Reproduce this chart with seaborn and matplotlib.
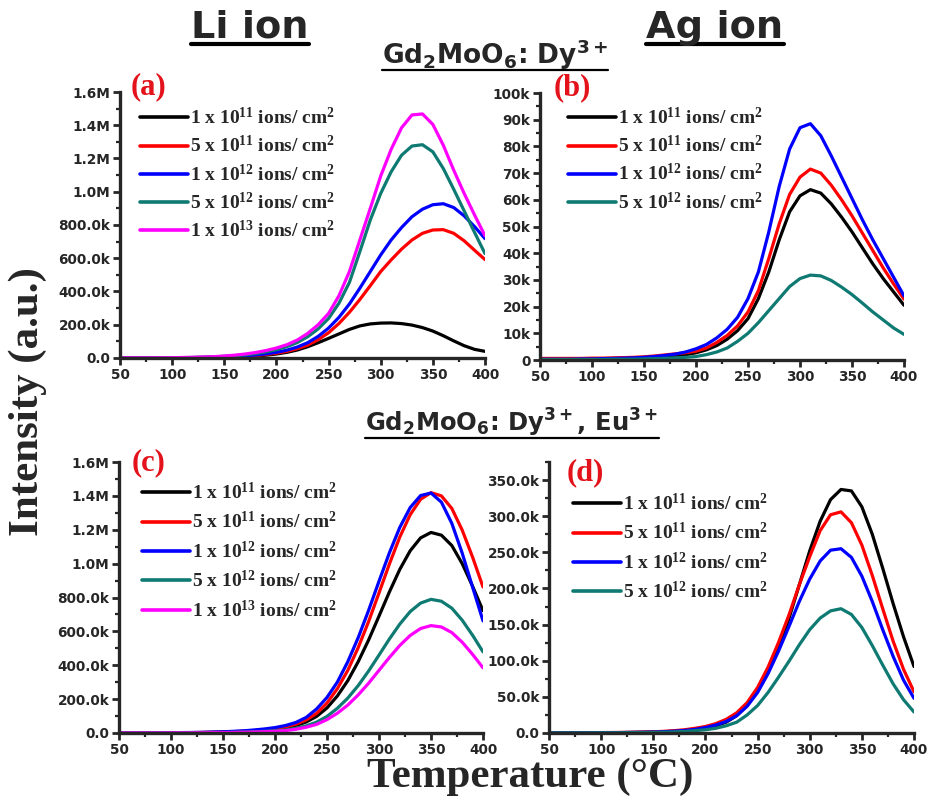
import matplotlib
matplotlib.use("Agg")
import matplotlib.pyplot as plt
import numpy as np
import pandas as pd
import seaborn as sns
from matplotlib.lines import Line2D
from matplotlib.ticker import MultipleLocator
from matplotlib.font_manager import FontProperties

# ---------------------------------------------------------------- data
# Temperature grid (°C) shared by all glow curves
TEMP = [50, 60, 70, 80, 90, 100, 110, 120, 130, 140, 150, 160, 170, 180, 190,
        200, 210, 220, 230, 240, 250, 260, 270, 280, 290, 300, 310, 320, 330,
        340, 350, 360, 370, 380, 390, 400]

# Fluence labels
DOSE5 = ["1 x 10$^{11}$ ions/ cm$^{2}$", "5 x 10$^{11}$ ions/ cm$^{2}$",
         "1 x 10$^{12}$ ions/ cm$^{2}$", "5 x 10$^{12}$ ions/ cm$^{2}$",
         "1 x 10$^{13}$ ions/ cm$^{2}$"]
DOSE4 = DOSE5[:4]

# (a) Gd2MoO6:Dy3+, Li ion  -- intensity in thousands
a_1e11 = [1, 1, 1, 1, 1, 1, 1.5, 2, 2.5, 3.5, 5, 7, 9, 12, 17, 24, 34, 48, 68, 92,
          118, 145, 172, 193, 205, 210, 211, 207, 198, 183, 162, 134, 103, 74, 52, 40]
a_5e11 = [1, 1, 1, 1, 1, 1.5, 2, 2.5, 3, 4, 6, 8, 11, 15, 21, 29, 40, 56, 78, 110,
          152, 208, 275, 352, 435, 520, 590, 655, 710, 750, 770, 772, 750, 705, 648, 592]
a_1e12 = [1, 1, 1, 1, 1, 1.5, 2, 2.5, 3.5, 5, 7, 9, 13, 18, 25, 34, 47, 66, 92, 130,
          180, 245, 325, 420, 520, 620, 710, 785, 850, 895, 922, 928, 905, 855, 790, 718]
a_5e12 = [1, 1, 1, 1, 1.5, 2, 2.5, 3.5, 5, 7, 10, 14, 19, 27, 37, 50, 68, 93, 128, 175,
          238, 330, 455, 640, 830, 990, 1120, 1220, 1275, 1283, 1240, 1140, 1015, 885, 755, 628]
a_1e13 = [1, 1, 1, 1, 1.5, 2, 3, 4, 6, 8, 12, 17, 24, 33, 45, 60, 80, 108, 148, 200,
          268, 375, 520, 710, 900, 1095, 1255, 1385, 1462, 1468, 1405, 1280, 1130, 990, 860, 735]

# (b) Gd2MoO6:Dy3+, Ag ion -- intensity in thousands
b_1e11 = [0.3, 0.3, 0.3, 0.3, 0.4, 0.4, 0.4, 0.5, 0.5, 0.6, 0.7, 0.9, 1.2, 1.5, 2.0,
          2.7, 3.8, 5.4, 7.8, 11.0, 15.5, 23, 33, 45, 55.5, 61.5, 63.8, 62.5, 58.5,
          53.5, 48, 42, 36, 30.5, 25.5, 20.5]
b_5e11 = [0.6, 0.6, 0.6, 0.6, 0.6, 0.7, 0.7, 0.8, 0.9, 1.0, 1.2, 1.5, 1.9, 2.3, 2.7,
          3.3, 4.5, 6.6, 9.2, 12.8, 18, 26, 38, 51, 62, 68.5, 71.5, 70, 65.5,
          60, 54, 47.5, 41, 34.5, 28.5, 22.8]
b_1e12 = [0.3, 0.3, 0.3, 0.3, 0.4, 0.4, 0.5, 0.6, 0.7, 0.8, 1.0, 1.3, 1.7, 2.2, 3.0,
          4.2, 5.8, 8.3, 11.5, 16, 23, 33, 48, 65, 79, 87, 88.5, 84, 76.5,
          68.5, 60.5, 52.5, 45, 38, 31, 24]
b_5e12 = [0.2, 0.2, 0.2, 0.2, 0.2, 0.2, 0.2, 0.3, 0.3, 0.3, 0.4, 0.5, 0.6, 0.8, 1.0,
          1.3, 2.0, 3.0, 4.5, 7.0, 10, 14, 18.5, 23, 27.5, 30.5, 31.8, 31.5, 29.8,
          27.3, 24.5, 21.3, 18, 15, 12, 9.6]

# (c) Gd2MoO6:Dy3+,Eu3+, Li ion -- intensity in thousands
c_1e11 = [1, 1, 1, 1, 1, 1, 1.5, 2, 2.5, 3.5, 5, 7, 9, 12, 16, 22, 30, 44, 65, 98,
          148, 219, 309, 421, 549, 690, 833, 966, 1076, 1152, 1184, 1168, 1107, 1000, 866, 722]
c_5e11 = [1, 1, 1, 1, 1, 1.5, 2, 2.5, 3.5, 4.5, 6, 8, 11, 15, 19, 26, 36, 52, 77, 116,
          177, 262, 370, 504, 658, 827, 998, 1157, 1289, 1380, 1419, 1400, 1326, 1198, 1038, 862]
c_1e12 = [1, 1, 1, 1, 1.5, 2, 2.5, 3, 4, 5.5, 7, 10, 13, 18, 24, 32, 44, 62, 92, 142,
          210, 301, 421, 563, 724, 896, 1064, 1214, 1331, 1402, 1417, 1363, 1238, 1062, 861, 662]
c_5e12 = [0.5, 0.5, 0.5, 0.5, 0.5, 1, 1, 1.5, 2, 2.5, 3, 4, 5.5, 7.5, 10, 13, 18, 28, 42, 64,
          98, 146, 206, 280, 366, 460, 555, 643, 717, 767, 789, 778, 737, 666, 577, 479]
c_1e13 = [0.5, 0.5, 0.5, 0.5, 0.5, 1, 1, 1, 1.5, 2, 2.5, 3.5, 4.5, 6, 8, 10, 14, 22, 34, 51,
          79, 117, 165, 225, 294, 370, 446, 517, 576, 617, 634, 626, 593, 536, 464, 385]

# (d) Gd2MoO6:Dy3+,Eu3+, Ag ion -- intensity in thousands
d_1e11 = [0.3, 0.3, 0.3, 0.3, 0.3, 0.4, 0.5, 0.6, 0.8, 1.0, 1.3, 1.8, 2.5, 3.5, 5, 7, 10,
          15, 24, 38, 60, 86, 118, 158, 205, 252, 293, 323, 337, 335, 313, 275, 228, 179, 133, 92]
d_5e11 = [0.5, 0.5, 0.5, 0.5, 0.5, 0.6, 0.7, 0.8, 1.0, 1.3, 1.7, 2.3, 3.2, 4.5, 6.5, 9, 13,
          19, 28, 42, 63, 91, 125, 163, 205, 244, 280, 302, 306, 291, 260, 218, 172, 127, 88, 57]
d_1e12 = [0.3, 0.3, 0.3, 0.3, 0.3, 0.4, 0.5, 0.6, 0.8, 1.0, 1.3, 1.8, 2.5, 3.5, 5, 7.5, 11,
          16, 24, 37, 56, 82, 113, 147, 182, 213, 238, 253, 255, 243, 217, 182, 143, 106, 73, 48]
d_5e12 = [0.2, 0.2, 0.2, 0.2, 0.2, 0.3, 0.3, 0.4, 0.5, 0.6, 0.8, 1.1, 1.5, 2.2, 3.2, 4.5, 6.5,
          10, 15, 25, 38, 56, 77, 99, 122, 143, 159, 169, 172, 164, 146, 121, 94, 68, 46, 29]

# Tick values and their printed labels
X_TICKS = [50, 100, 150, 200, 250, 300, 350, 400]
AC_YTICKS = [0, 200, 400, 600, 800, 1000, 1200, 1400, 1600]
AC_YLABELS = ["0.0", "200.0k", "400.0k", "600.0k", "800.0k", "1.0M", "1.2M", "1.4M", "1.6M"]
B_YTICKS = [0, 10, 20, 30, 40, 50, 60, 70, 80, 90, 100]
B_YLABELS = ["0", "10k", "20k", "30k", "40k", "50k", "60k", "70k", "80k", "90k", "100k"]
D_YTICKS = [0, 50, 100, 150, 200, 250, 300, 350]
D_YLABELS = ["0.0", "50.0k", "100.0k", "150.0k", "200.0k", "250.0k", "300.0k", "350.0k"]

# ---------------------------------------------------------------- style
COLORS5 = ["#000000", "#FF0000", "#0000FF", "#0E7A72", "#FF00FF"]
COLORS4 = COLORS5[:4]
PANEL_RED = "#E3121B"

sns.set_style("ticks")
plt.rcParams["font.family"] = ["DejaVu Sans"]
plt.rcParams["mathtext.default"] = "regular"
plt.rcParams["axes.linewidth"] = 2.4

W, H = 931, 797
fig = plt.figure(figsize=(W / 100, H / 100), dpi=100)

SERIF_B = dict(family="Liberation Serif", weight="bold")
TICK_FONT = FontProperties(family="DejaVu Sans", weight="bold", size=9.8)
LEG_FONT = FontProperties(family="Liberation Serif", weight="bold", size=14)


def px_rect(x0, y0, x1, y1):
    """Axes rectangle from pixel corners (top-left origin)."""
    return [x0 / W, 1 - y1 / H, (x1 - x0) / W, (y1 - y0) / H]


def draw_panel(rect, series, labels, colors, ylim, yticks, ylabels, yminor,
               leg_xy, leg_gap, tag, tag_xy):
    ax = fig.add_axes(rect)
    frame = pd.DataFrame({"Temperature": TEMP})
    for lab, vals in zip(labels, series):
        frame[lab] = vals
    long = frame.melt(id_vars="Temperature", var_name="Dose", value_name="Intensity")
    sns.lineplot(data=long, x="Temperature", y="Intensity", hue="Dose",
                 hue_order=labels, palette=colors, linewidth=2.3,
                 estimator=None, legend=False, ax=ax)
    ax.set_xlim(50, 400)
    ax.set_ylim(*ylim)
    ax.set_xticks(X_TICKS, [str(t) for t in X_TICKS])
    ax.set_yticks(yticks, ylabels)
    ax.xaxis.set_minor_locator(MultipleLocator(25))
    ax.yaxis.set_minor_locator(MultipleLocator(yminor))
    for lab in ax.get_xticklabels() + ax.get_yticklabels():
        lab.set_fontproperties(TICK_FONT)
    ax.tick_params(which="major", direction="out", length=5, width=2, pad=2)
    ax.tick_params(which="minor", direction="out", length=3, width=1.6)
    ax.set_xlabel("")
    ax.set_ylabel("")
    sns.despine(ax=ax)
    handles = [Line2D([], [], color=c, lw=2.6) for c in colors]
    ax.legend(handles, labels, loc="upper left",
              bbox_to_anchor=(leg_xy[0] / W, 1 - leg_xy[1] / H),
              bbox_transform=fig.transFigure, frameon=False, prop=LEG_FONT,
              borderpad=0, borderaxespad=0, handlelength=2.45,
              handletextpad=0.12, labelspacing=leg_gap)
    fig.text(tag_xy[0] / W, 1 - tag_xy[1] / H, tag, color=PANEL_RED,
             ha="center", va="center", size=22, **SERIF_B)
    return ax


draw_panel(px_rect(120, 92, 485, 358), [a_1e11, a_5e11, a_1e12, a_5e12, a_1e13],
           DOSE5, COLORS5, (0, 1600), AC_YTICKS, AC_YLABELS, 100,
           (140, 107), 0.36, "(a)", (149, 87))
draw_panel(px_rect(540, 93, 904, 360), [b_1e11, b_5e11, b_1e12, b_5e12],
           DOSE4, COLORS4, (0, 100), B_YTICKS, B_YLABELS, 5,
           (568, 107), 0.36, "(b)", (572, 88))
draw_panel(px_rect(119, 462, 483, 733), [c_1e11, c_5e11, c_1e12, c_5e12, c_1e13],
           DOSE5, COLORS5, (0, 1600), AC_YTICKS, AC_YLABELS, 100,
           (142, 482), 0.42, "(c)", (149, 463))
draw_panel(px_rect(549, 462, 914, 733), [d_1e11, d_5e11, d_1e12, d_5e12],
           DOSE4, COLORS4, (0, 375), D_YTICKS, D_YLABELS, 25,
           (573, 493), 0.42, "(d)", (585, 473))

# ---------------------------------------------------------------- headings
heads = [
    ("Li ion", 250, 38, 27.5, 43.5, 3.0),
    ("Ag ion", 715, 38, 27.5, 43.5, 3.0),
    ("Gd$_2$MoO$_6$: Dy$^{3+}$", 495, 64, 19, 69.5, 1.6),
    ("Gd$_2$MoO$_6$: Dy$^{3+}$, Eu$^{3+}$", 512, 432, 17.5, 438, 1.6),
]
texts = []
for s, x, y, size, uy, ulw in heads:
    t = fig.text(x / W, 1 - y / H, s, ha="center", va="baseline",
                 family="DejaVu Sans", weight="bold", size=size)
    texts.append((t, uy, ulw))

fig.text(530 / W, 1 - 787 / H, "Temperature (°C)", ha="center", va="baseline",
         size=31, **SERIF_B)
fig.text(28 / W, 1 - 402 / H, "Intensity (a.u.)", ha="center", va="center",
         rotation=90, size=31, **SERIF_B)

# underline the headings
fig.canvas.draw()
renderer = fig.canvas.get_renderer()
for t, uy, ulw in texts:
    bb = t.get_window_extent(renderer)
    yy = 1 - uy / H
    fig.add_artist(Line2D([bb.x0 / W, bb.x1 / W], [yy, yy],
                          transform=fig.transFigure, color="black", lw=ulw))

fig.savefig("out.png", dpi=100)
